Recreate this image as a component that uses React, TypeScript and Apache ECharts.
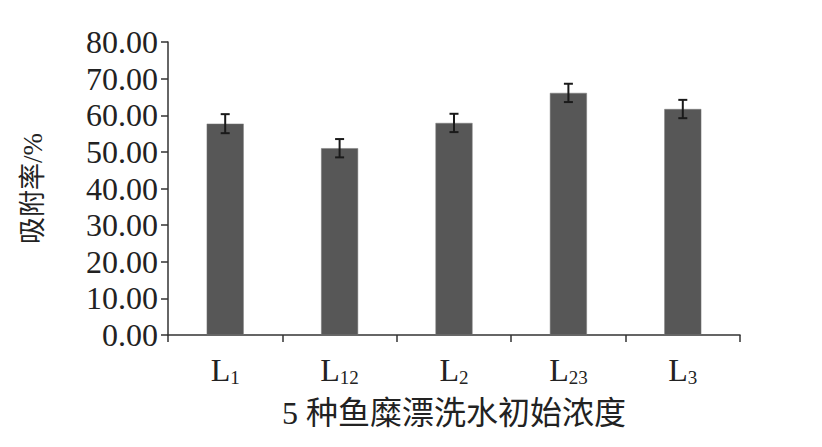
import React, { useEffect, useRef } from "react";
import * as echarts from "echarts";

const categories = ["1", "12", "2", "23", "3"];
const values = [57.7, 51.0, 57.9, 66.1, 61.7];
const errors = [2.6, 2.5, 2.5, 2.5, 2.5];
const yTicks = { min: 0, max: 80, interval: 10 };
const yName = "吸附率/%";
const xName = "5 种鱼糜漂洗水初始浓度";

const FONT = "'Liberation Serif', 'Noto Sans CJK SC', serif";

export default function App() {
  const ref = useRef<HTMLDivElement>(null);
  useEffect(() => {
    if (!ref.current) return;
    const chart = echarts.init(ref.current, null, { renderer: "svg" });
    chart.setOption({
      animation: false,
      backgroundColor: "#ffffff",
      grid: { left: 160, right: 74, top: 34, bottom: 104, containLabel: false },
      xAxis: {
        type: "category",
        data: categories,
        name: xName,
        nameLocation: "middle",
        nameGap: 62,
        nameTextStyle: { fontFamily: FONT, fontSize: 32, color: "#222" },
        axisLine: { lineStyle: { color: "#333", width: 1.5 } },
        axisTick: { show: true, alignWithLabel: false, length: 7, lineStyle: { color: "#333", width: 1.5 } },
        axisLabel: {
          margin: 17,
          formatter: (v: string) => `{a|L}{b|${v}}`,
          rich: {
            a: { fontFamily: FONT, fontSize: 32, color: "#222" },
            b: { fontFamily: FONT, fontSize: 19, color: "#222", padding: [16, 0, 0, 0] },
          },
        },
      },
      yAxis: {
        type: "value",
        min: yTicks.min,
        max: yTicks.max,
        interval: yTicks.interval,
        name: yName,
        nameLocation: "middle",
        nameGap: 122,
        nameRotate: 90,
        nameTextStyle: { fontFamily: FONT, fontSize: 27, color: "#222" },
        axisLine: { show: true, lineStyle: { color: "#333", width: 1.5 } },
        axisTick: { show: true, length: 7, lineStyle: { color: "#333", width: 1.5 } },
        splitLine: { show: false },
        axisLabel: {
          margin: 10,
          fontFamily: FONT,
          fontSize: 32,
          color: "#222",
          formatter: (v: number) => v.toFixed(2),
        },
      },
      series: [
        {
          type: "bar",
          data: values,
          barWidth: 37,
          itemStyle: { color: "#575757", borderColor: "#7a7a7a", borderWidth: 0.5 },
        },
        {
          type: "custom",
          data: values.map((v, i) => [i, v - errors[i], v + errors[i]]),
          renderItem: (params: any, api: any) => {
            const x = api.value(0);
            const lo = api.coord([x, api.value(1)]);
            const hi = api.coord([x, api.value(2)]);
            const cap = 4.5;
            const style = { stroke: "#1a1a1a", lineWidth: 2 };
            return {
              type: "group",
              children: [
                { type: "line", shape: { x1: hi[0], y1: hi[1], x2: lo[0], y2: lo[1] }, style },
                { type: "line", shape: { x1: hi[0] - cap, y1: hi[1], x2: hi[0] + cap, y2: hi[1] }, style },
                { type: "line", shape: { x1: lo[0] - cap, y1: lo[1], x2: lo[0] + cap, y2: lo[1] }, style },
              ],
            };
          },
          z: 10,
        },
      ],
    });
    return () => chart.dispose();
  }, []);
  return <div ref={ref} style={{ width: 806, height: 431 }} />;
}
